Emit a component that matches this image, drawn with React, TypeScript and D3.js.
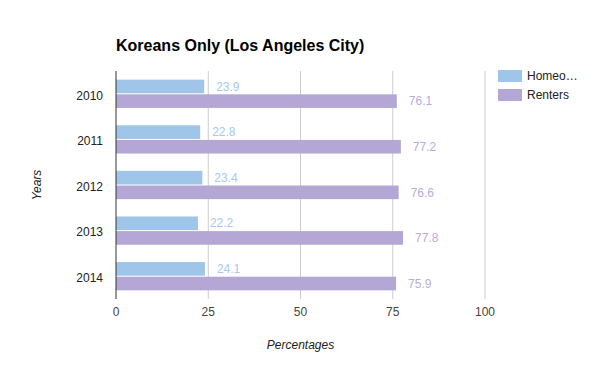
import * as d3 from "d3";
import { useEffect, useRef } from "react";

const years = ["2010", "2011", "2012", "2013", "2014"];
const homeowners = [23.9, 22.8, 23.4, 22.2, 24.1];
const renters = [76.1, 77.2, 76.6, 77.8, 75.9];
const seriesNames = ["Homeowners", "Renters"];
const xTicks = [0, 25, 50, 75, 100];

const colors = ["#9fc5e8", "#b4a7d6"];
const labelColors = ["#a8c8ee", "#b9acdc"];
const font = "'Liberation Sans', Arial, sans-serif";

export default function App() {
  const svgRef = useRef(null);
  const width = 600;
  const height = 371;
  const plot = { left: 116, right: 485, top: 71, bottom: 299 };

  useEffect(() => {
    const svg = d3.select(svgRef.current);
    svg.selectAll("*").remove();

    const x = d3.scaleLinear().domain([0, 100]).range([plot.left, plot.right]);
    const y = d3
      .scaleBand()
      .domain(years)
      .range([plot.top, plot.bottom])
      .paddingInner(0.38)
      .paddingOuter(0.19);
    const sub = d3
      .scaleBand()
      .domain(seriesNames)
      .range([0, y.bandwidth()])
      .paddingInner(0.07);

    svg.append("rect").attr("width", width).attr("height", height).attr("fill", "#fff");

    // grid
    svg
      .append("g")
      .selectAll("line")
      .data(xTicks.slice(1))
      .enter()
      .append("line")
      .attr("x1", (d) => x(d))
      .attr("x2", (d) => x(d))
      .attr("y1", plot.top)
      .attr("y2", plot.bottom)
      .attr("stroke", "#cccccc")
      .attr("stroke-width", 1);

    const rows = years.map((yr, i) => ({ yr, vals: [homeowners[i], renters[i]] }));

    const groups = svg
      .append("g")
      .selectAll("g")
      .data(rows)
      .enter()
      .append("g")
      .attr("transform", (d) => `translate(0,${y(d.yr)})`);

    seriesNames.forEach((name, s) => {
      groups
        .append("rect")
        .attr("x", x(0))
        .attr("y", sub(name) || 0)
        .attr("width", (d) => x(d.vals[s]) - x(0))
        .attr("height", sub.bandwidth())
        .attr("fill", colors[s]);
      groups
        .append("text")
        .attr("x", (d) => x(d.vals[s]) + 12)
        .attr("y", (sub(name) || 0) + sub.bandwidth() / 2)
        .attr("dy", "0.35em")
        .attr("font-family", font)
        .attr("font-size", 12)
        .attr("fill", labelColors[s])
        .text((d) => d.vals[s].toFixed(1));
    });

    // axis line at zero
    svg
      .append("line")
      .attr("x1", x(0))
      .attr("x2", x(0))
      .attr("y1", plot.top)
      .attr("y2", plot.bottom)
      .attr("stroke", "#333")
      .attr("stroke-width", 1);

    // x tick labels
    svg
      .append("g")
      .selectAll("text")
      .data(xTicks)
      .enter()
      .append("text")
      .attr("x", (d) => x(d))
      .attr("y", plot.bottom + 17)
      .attr("text-anchor", "middle")
      .attr("font-family", font)
      .attr("font-size", 12)
      .attr("fill", "#444")
      .text((d) => d);

    // y tick labels
    svg
      .append("g")
      .selectAll("text")
      .data(years)
      .enter()
      .append("text")
      .attr("x", plot.left - 13)
      .attr("y", (d) => (y(d) || 0) + y.bandwidth() / 2 + 1.5)
      .attr("dy", "0.35em")
      .attr("text-anchor", "end")
      .attr("font-family", font)
      .attr("font-size", 12)
      .attr("fill", "#222")
      .text((d) => d);

    // title
    svg
      .append("text")
      .attr("x", plot.left)
      .attr("y", 51)
      .attr("font-family", font)
      .attr("font-size", 16)
      .attr("font-weight", "bold")
      .attr("fill", "#000")
      .text("Koreans Only (Los Angeles City)");

    // axis titles
    svg
      .append("text")
      .attr("x", (plot.left + plot.right) / 2)
      .attr("y", 349)
      .attr("text-anchor", "middle")
      .attr("font-family", font)
      .attr("font-size", 12)
      .attr("font-style", "italic")
      .attr("fill", "#222")
      .text("Percentages");
    svg
      .append("text")
      .attr("transform", `translate(41,${(plot.top + plot.bottom) / 2}) rotate(-90)`)
      .attr("text-anchor", "middle")
      .attr("font-family", font)
      .attr("font-size", 12)
      .attr("font-style", "italic")
      .attr("fill", "#222")
      .text("Years");

    // legend
    const legend = svg
      .append("g")
      .selectAll("g")
      .data(seriesNames)
      .enter()
      .append("g")
      .attr("transform", (_, i) => `translate(498,${70 + i * 19})`);
    legend
      .append("rect")
      .attr("width", 24)
      .attr("height", 12)
      .attr("fill", (_, i) => colors[i]);
    legend
      .append("text")
      .attr("x", 29)
      .attr("y", 6)
      .attr("dy", "0.35em")
      .attr("font-family", font)
      .attr("font-size", 12)
      .attr("fill", "#222")
      .text((d) => (d.length > 8 ? d.slice(0, 5) + "…" : d));
  }, []);

  return (
    <svg
      ref={svgRef}
      width={width}
      height={height}
      style={{ display: "block", position: "absolute", left: 0, top: 0 }}
    ></svg>
  );
}
